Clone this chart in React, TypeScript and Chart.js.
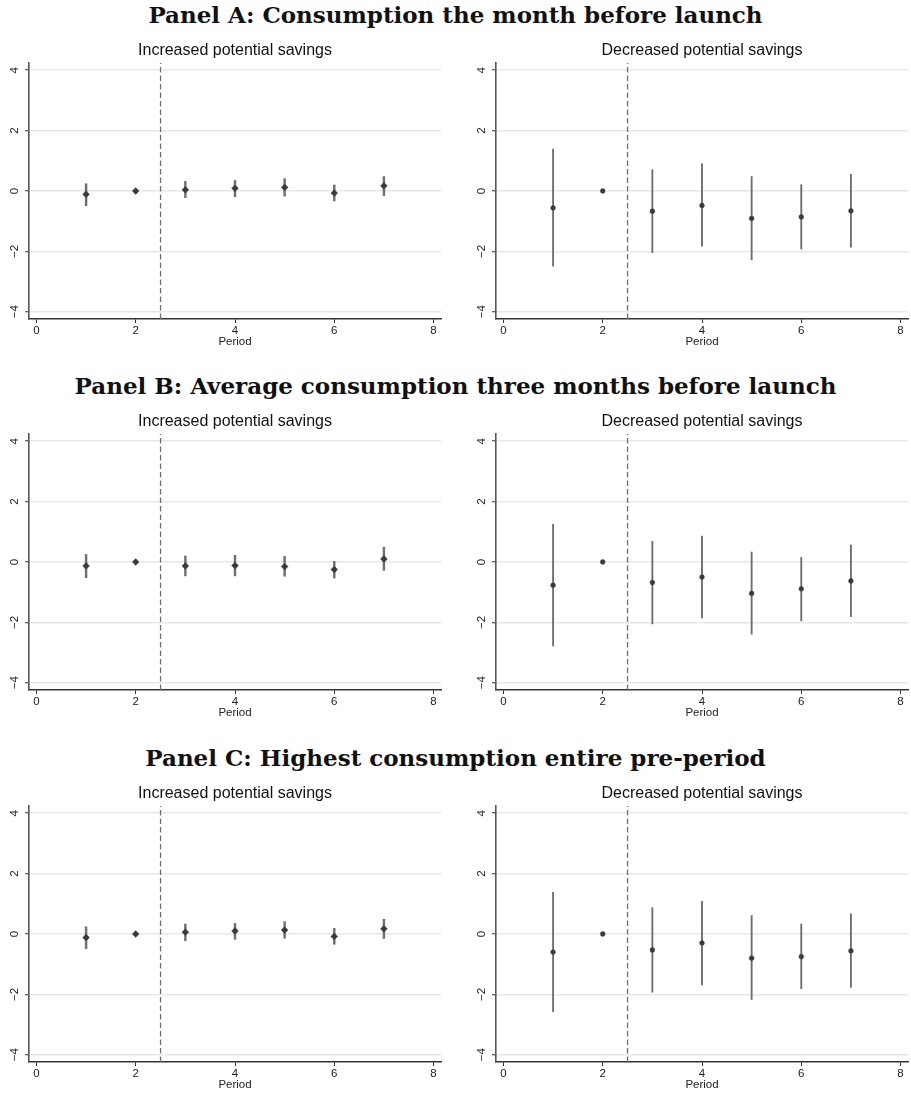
import React, { useEffect, useRef } from "react";
import { Chart, registerables } from "chart.js";

Chart.register(...registerables);

// ---------- data ----------
const PERIODS = [1, 2, 3, 4, 5, 6, 7];
const X_TICKS = [0, 2, 4, 6, 8];
const Y_TICKS = [-4, -2, 0, 2, 4];
const EVENT_LINE_X = 2.5;
const X_MIN = -0.15;
const X_MAX = 8.15;
const Y_MIN = -4.24;
const Y_MAX = 4.24;

const PANEL_TITLES = [
  "Panel A: Consumption the month before launch",
  "Panel B: Average consumption three months before launch",
  "Panel C: Highest consumption entire pre-period",
];
const SUBPLOT_TITLES = ["Increased potential savings", "Decreased potential savings"];
const X_TITLE = "Period";

// Panel A
const A_INC_COEF = [-0.11, 0, 0.04, 0.09, 0.12, -0.07, 0.17];
const A_INC_LO = [-0.49, 0, -0.22, -0.19, -0.17, -0.33, -0.15];
const A_INC_HI = [0.24, 0, 0.32, 0.35, 0.41, 0.2, 0.48];
const A_DEC_COEF = [-0.56, 0, -0.67, -0.48, -0.91, -0.86, -0.66];
const A_DEC_LO = [-2.49, 0, -2.04, -1.83, -2.28, -1.92, -1.86];
const A_DEC_HI = [1.39, 0, 0.7, 0.9, 0.48, 0.21, 0.55];

// Panel B
const B_INC_COEF = [-0.13, 0, -0.13, -0.12, -0.15, -0.25, 0.1];
const B_INC_LO = [-0.52, 0, -0.46, -0.46, -0.47, -0.53, -0.28];
const B_INC_HI = [0.25, 0, 0.2, 0.22, 0.19, 0.02, 0.49];
const B_DEC_COEF = [-0.77, 0, -0.68, -0.5, -1.04, -0.89, -0.63];
const B_DEC_LO = [-2.78, 0, -2.05, -1.85, -2.39, -1.95, -1.81];
const B_DEC_HI = [1.25, 0, 0.68, 0.86, 0.33, 0.15, 0.56];

// Panel C
const C_INC_COEF = [-0.12, 0, 0.06, 0.1, 0.13, -0.08, 0.17];
const C_INC_LO = [-0.49, 0, -0.22, -0.18, -0.14, -0.34, -0.15];
const C_INC_HI = [0.24, 0, 0.33, 0.35, 0.41, 0.19, 0.49];
const C_DEC_COEF = [-0.6, 0, -0.53, -0.3, -0.8, -0.75, -0.56];
const C_DEC_LO = [-2.57, 0, -1.93, -1.69, -2.17, -1.81, -1.77];
const C_DEC_HI = [1.38, 0, 0.87, 1.08, 0.61, 0.33, 0.67];

const PANELS = [
  {
    title: PANEL_TITLES[0],
    inc: { coef: A_INC_COEF, lo: A_INC_LO, hi: A_INC_HI },
    dec: { coef: A_DEC_COEF, lo: A_DEC_LO, hi: A_DEC_HI },
  },
  {
    title: PANEL_TITLES[1],
    inc: { coef: B_INC_COEF, lo: B_INC_LO, hi: B_INC_HI },
    dec: { coef: B_DEC_COEF, lo: B_DEC_LO, hi: B_DEC_HI },
  },
  {
    title: PANEL_TITLES[2],
    inc: { coef: C_INC_COEF, lo: C_INC_LO, hi: C_INC_HI },
    dec: { coef: C_DEC_COEF, lo: C_DEC_LO, hi: C_DEC_HI },
  },
];

// ---------- layout ----------
const PANEL_TOPS = [0, 371, 743];
const CANVAS_W = 444;
const CANVAS_H = 322;
const SANS = "'Liberation Sans', Arial, Helvetica, sans-serif";

const fmtTick = (v: number) => (v < 0 ? "\u2212" + Math.abs(v) : String(v));

type Series = { coef: number[]; lo: number[]; hi: number[] };

function CoefChart(props: {
  series: Series;
  title: string;
  marker: "rectRot" | "circle";
  left: number;
  top: number;
}) {
  const ref = useRef<HTMLCanvasElement | null>(null);
  const { series, title, marker, left, top } = props;

  useEffect(() => {
    if (!ref.current) return;
    const isDiamond = marker === "rectRot";
    const chart = new Chart(ref.current, {
      type: "scatter",
      data: {
        datasets: [
          {
            type: "scatter",
            data: PERIODS.map((p, i) => ({ x: p, y: series.coef[i] })),
            pointStyle: marker,
            pointRadius: isDiamond ? 3.4 : 2.4,
            pointHoverRadius: isDiamond ? 3.4 : 2.4,
            backgroundColor: "#3a3a3a",
            borderColor: "#3a3a3a",
            borderWidth: 0.5,
          } as any,
          {
            type: "bar",
            data: PERIODS.map((p, i) => ({ x: p, y: [series.lo[i], series.hi[i]] })),
            backgroundColor: isDiamond ? "#707070" : "#6c6c6c",
            borderWidth: 0,
            barThickness: isDiamond ? 1.8 : 1.2,
            grouped: false,
          } as any,
          {
            type: "line",
            data: [
              { x: EVENT_LINE_X, y: Y_MIN },
              { x: EVENT_LINE_X, y: Y_MAX },
            ],
            borderColor: "#6e6e6e",
            borderWidth: 1.3,
            borderDash: [5.5, 3],
            pointRadius: 0,
            fill: false,
          } as any,
        ],
      },
      options: {
        animation: false,
        responsive: false,
        maintainAspectRatio: false,
        events: [],
        layout: { padding: { left: 0, right: 3, top: 0, bottom: 0 }, autoPadding: false },
        plugins: {
          legend: { display: false },
          tooltip: { enabled: false },
          title: {
            display: true,
            text: title,
            fullSize: false,
            color: "#111",
            font: { family: SANS, size: 16, weight: "normal" as any },
            padding: { top: 11.3, bottom: 2.5 },
          },
        },
        scales: {
          x: {
            type: "linear",
            min: X_MIN,
            max: X_MAX,
            offset: false,
            afterBuildTicks: (s: any) => {
              s.ticks = X_TICKS.map((v) => ({ value: v }));
            },
            afterFit: (s: any) => {
              s.height = 33;
            },
            grid: {
              offset: false,
              drawOnChartArea: false,
              drawTicks: true,
              tickLength: 4,
              tickColor: "#333",
              tickWidth: 1,
            },
            border: { display: true, color: "#333", width: 1.5 },
            ticks: {
              color: "#222",
              font: { family: SANS, size: 11.5 },
              padding: 1,
              maxRotation: 0,
              autoSkip: false,
              callback: (v: any) => fmtTick(Number(v)),
            },
            title: {
              display: true,
              text: X_TITLE,
              color: "#222",
              font: { family: SANS, size: 11.5 },
              padding: { top: 0, bottom: 3.4 },
            },
          },
          y: {
            type: "linear",
            min: Y_MIN,
            max: Y_MAX,
            afterBuildTicks: (s: any) => {
              s.ticks = Y_TICKS.map((v) => ({ value: v }));
            },
            afterFit: (s: any) => {
              s.width = 29;
            },
            grid: {
              color: "#e8e8e8",
              lineWidth: 1.5,
              drawTicks: true,
              tickLength: 4,
              tickColor: "#333",
              tickWidth: 1,
            },
            border: { display: true, color: "#555", width: 1.6 },
            ticks: {
              color: "#222",
              font: { family: SANS, size: 11.5 },
              padding: 3.5,
              minRotation: 90,
              maxRotation: 90,
              crossAlign: "center",
              autoSkip: false,
              callback: (v: any) => fmtTick(Number(v)),
            },
          },
        },
      } as any,
    });
    return () => chart.destroy();
  }, []);

  return (
    <canvas
      ref={ref}
      width={CANVAS_W}
      height={CANVAS_H}
      style={{
        position: "absolute",
        left,
        top,
        width: CANVAS_W,
        height: CANVAS_H,
        display: "block",
      }}
    />
  );
}

export default function App() {
  return (
    <div
      style={{
        position: "absolute",
        left: 0,
        top: 0,
        width: 911,
        height: 1095,
        overflow: "hidden",
        background: "#fff",
      }}
    >
      {PANELS.map((panel, k) => {
        const T = PANEL_TOPS[k];
        return (
          <React.Fragment key={k}>
            <div
              style={{
                position: "absolute",
                left: 0,
                top: T,
                width: 911,
                textAlign: "center",
                fontFamily: "'DejaVu Serif', serif",
                fontWeight: "bold",
                fontSize: 23,
                lineHeight: "30px",
                color: "#111",
                whiteSpace: "nowrap",
              }}
            >
              {panel.title}
            </div>
            <CoefChart
              series={panel.inc}
              title={SUBPLOT_TITLES[0]}
              marker="rectRot"
              left={0}
              top={T + 30}
            />
            <CoefChart
              series={panel.dec}
              title={SUBPLOT_TITLES[1]}
              marker="circle"
              left={467}
              top={T + 30}
            />
          </React.Fragment>
        );
      })}
    </div>
  );
}
